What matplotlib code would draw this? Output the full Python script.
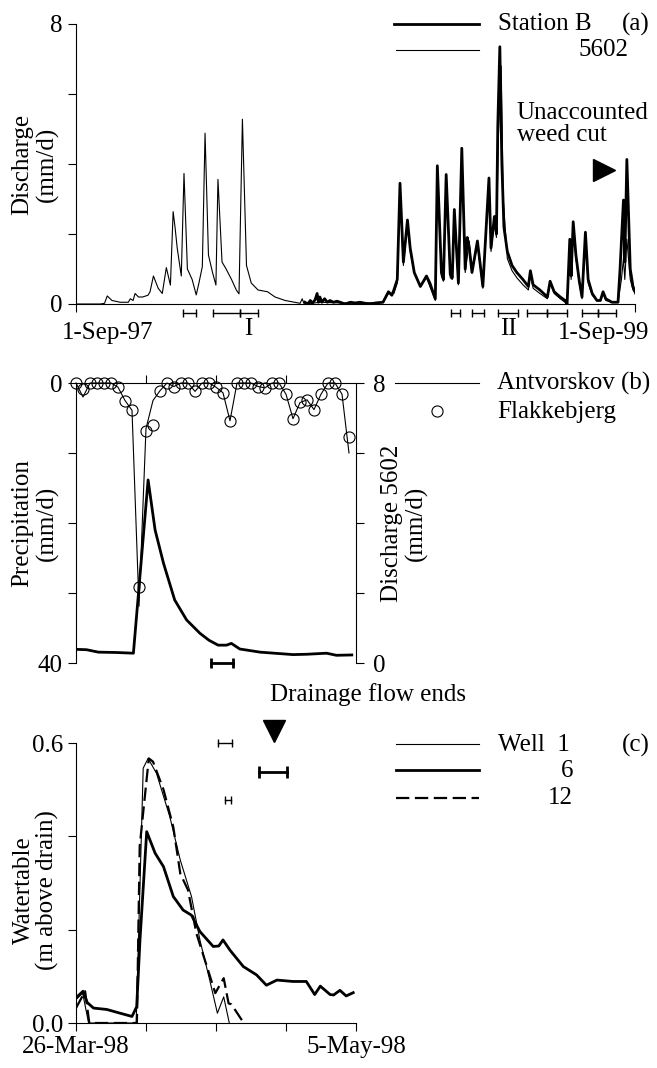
import matplotlib.pyplot as plt
from matplotlib.lines import Line2D

plt.rcParams['font.family'] = ['Liberation Serif', 'DejaVu Serif']
plt.rcParams['font.size'] = 18

# ---- (a) discharge, x = days since 1-Sep-97 ----
q5602_day = [-46, -10, -4, 0, 7, 19, 31, 34, 38, 41, 46, 52, 60, 63, 68, 75, 81, 87,
             93, 97, 100, 103, 109, 113, 118, 125, 131, 135, 140, 144, 149, 155,
             160, 163, 169, 175, 183, 190, 194, 199, 205, 212, 222, 236, 247, 262,
             284, 287, 290, 314, 343, 372, 406, 414, 422, 427, 431, 436, 442, 446,
             452, 461, 470, 475, 483, 486, 492, 495, 499, 505, 508, 511, 517, 522,
             527, 533, 537, 545, 553, 562, 565, 570, 573, 576, 580, 583, 589, 596,
             603, 612, 620, 623, 627, 637, 648, 652, 658, 667, 674, 677, 681, 683,
             686, 690, 695, 699, 704, 708, 714, 721, 726, 730, 734, 743, 752, 757,
             760, 762, 765, 770, 774, 779]
q5602 = [0.0, 0.0, 0.02, 0.23, 0.1, 0.05, 0.05, 0.15, 0.1, 0.3, 0.2, 0.2, 0.25,
         0.35, 0.8, 0.45, 0.3, 1.04, 0.54, 2.64, 2.16, 1.6, 0.8, 3.73, 1.0, 0.7,
         0.26, 0.6, 1.07, 4.88, 1.4, 0.9, 0.54, 3.56, 1.2, 1.0, 0.7, 0.4, 0.29,
         5.28, 1.1, 0.6, 0.4, 0.35, 0.2, 0.1, 0.02, 0.15, 0.0, 0.05, 0.03, 0.02,
         0.05, 0.3, 0.3, 0.6, 3.3, 1.1, 2.3, 1.5, 0.9, 0.5, 0.75, 0.5, 0.1, 3.8,
         0.8, 0.65, 3.6, 0.75, 0.7, 2.6, 0.55, 4.35, 0.9, 1.8, 0.9, 1.7, 0.45,
         3.5, 1.5, 2.4, 1.9, 4.9, 6.8, 3.0, 1.3, 0.95, 0.75, 0.55, 0.4, 0.85,
         0.45, 0.3, 0.15, 0.6, 0.3, 0.15, 0.05, 0.0, 1.7, 0.7, 2.2, 1.3, 0.6,
         0.15, 1.9, 0.6, 0.25, 0.1, 0.1, 0.3, 0.1, 0.05, 0.05, 0.7, 1.3, 0.7,
         1.85, 0.7, 0.4, 0.25]

stb_day = [291, 295, 299, 302, 306, 309, 311, 313, 316, 320, 324, 328, 333, 338,
           343, 350, 358, 365, 372, 380, 387, 395, 406, 414, 419, 422, 427, 431,
           436, 442, 446, 452, 461, 470, 475, 483, 486, 492, 495, 499, 505, 508,
           511, 517, 522, 527, 530, 533, 537, 545, 553, 562, 565, 570, 573, 575,
           578, 581, 584, 589, 596, 603, 612, 620, 623, 627, 637, 648, 652, 658,
           667, 674, 677, 681, 683, 686, 690, 695, 699, 704, 708, 714, 721, 726,
           730, 734, 743, 752, 755, 760, 762, 765, 770, 774, 779]
stb = [0.05, 0.0, 0.1, 0.02, 0.12, 0.3, 0.05, 0.2, 0.05, 0.15, 0.05, 0.1, 0.05,
       0.08, 0.05, 0.0, 0.05, 0.03, 0.05, 0.02, 0.0, 0.03, 0.05, 0.35, 0.25,
       0.4, 0.7, 3.45, 1.2, 2.4, 1.6, 0.9, 0.5, 0.8, 0.6, 0.15, 3.95, 0.9, 0.7,
       3.7, 0.85, 0.75, 2.7, 0.6, 4.45, 1.0, 1.9, 1.6, 0.9, 1.8, 0.5, 3.6, 1.6,
       2.5, 2.0, 5.1, 7.35, 4.0, 2.2, 1.5, 1.1, 0.9, 0.7, 0.5, 0.95, 0.55, 0.4,
       0.2, 0.65, 0.35, 0.2, 0.1, 0.0, 1.85, 0.8, 2.35, 1.4, 0.65, 0.2, 2.05,
       0.7, 0.3, 0.1, 0.1, 0.35, 0.15, 0.05, 0.05, 1.0, 2.97, 1.2, 4.13, 1.0,
       0.5, 0.26]

per_start = [112, 156, 196, 506, 537, 575, 618, 648, 699, 723]
per_end = [130, 196, 222, 520, 555, 605, 648, 677, 723, 749]

# ---- (b) 26-Mar-98 .. 5-May-98, x = day ----
antvorskov = [0, 2.0, 0, 0, 0, 0, 0.6, 2.5, 3.9, 31.9, 6.5, 2.5, 1.1, 0, 0.5, 0,
              0, 1.2, 0, 0, 0.6, 1.4, 5.4, 0, 0, 0, 0.5, 0.7, 0, 0, 1.6, 5.1,
              2.8, 2.4, 3.8, 1.6, 0, 0, 1.6, 10.0]
flakkebjerg = [0, 0.8, 0, 0, 0, 0, 0.6, 2.5, 3.9, 29.2, 6.9, 6.0, 1.1, 0, 0.5, 0,
               0, 1.2, 0, 0, 0.6, 1.4, 5.4, 0, 0, 0, 0.5, 0.7, 0, 0, 1.6, 5.1,
               2.7, 2.4, 3.8, 1.6, 0, 0, 1.6, 7.7]
rain_day = list(range(len(antvorskov)))

qb_day = [0, 1.5, 3.2, 5.8, 8.2, 10.3, 11.3, 12.5, 14.1, 15.8, 17.7, 19.0, 20.3,
          21.5, 22.2, 23.4, 26.3, 29.0, 31.0, 33.0, 35.8, 37.2, 39.4]
qb = [0.39, 0.38, 0.31, 0.30, 0.28, 5.23, 3.8, 2.85, 1.8, 1.23, 0.85, 0.65, 0.51,
      0.51, 0.56, 0.40, 0.31, 0.27, 0.24, 0.25, 0.28, 0.22, 0.23]

# ---- (c) watertable ----
well1_day = [0, 0.95, 1.8, 8.6, 9.6, 10.3, 11.5, 13.4, 14.9, 16.5, 17.7, 19.1,
             20.2, 21.1, 21.9]
well1 = [0.05, 0.064, 0.0, 0.0, 0.546, 0.567, 0.535, 0.442, 0.349, 0.271, 0.178,
         0.092, 0.021, 0.056, 0.0]
well6_day = [0, 1.0, 1.6, 2.5, 4.4, 6.3, 8.0, 8.67, 9.14, 10.1, 11.3, 12.5, 13.9,
             15.3, 16.5, 17.7, 19.6, 20.4, 21.0, 22.0, 23.9, 25.8, 27.2, 28.7,
             31.0, 32.9, 34.1, 34.9, 36.3, 36.8, 37.7, 38.6, 39.6]
well6 = [0.054, 0.068, 0.044, 0.032, 0.029, 0.021, 0.014, 0.035, 0.178, 0.41,
         0.364, 0.335, 0.271, 0.242, 0.231, 0.196, 0.164, 0.165, 0.178, 0.156,
         0.121, 0.103, 0.081, 0.092, 0.089, 0.089, 0.061, 0.079, 0.061, 0.06,
         0.07, 0.058, 0.065]
well12_day = [0, 1.3, 1.9, 8.7, 9.1, 10.4, 11.0, 12.5, 13.9, 14.9, 16.0, 17.2,
              18.7, 19.9, 21.1, 21.8, 22.2, 23.7, 23.8]
well12 = [0.032, 0.068, 0.0, 0.0, 0.379, 0.567, 0.56, 0.50, 0.42, 0.32, 0.285,
          0.192, 0.121, 0.064, 0.096, 0.042, 0.04, 0.006, 0.0]

# drainage flow end intervals (start, end, level, width)
flow_end_b = [(19.3, 22.4, 40, 2)]
flow_end_c = [(20.3, 22.3, 0.6, 1), (26.2, 30.2, 0.537, 2), (21.3, 22.2, 0.477, 1)]

W, H = 657, 1068


def fx(p):
    return p / W


def fy(p):
    return 1 - p / H


def interval(ax, s, e, y, lw=1, ms=6):
    ax.plot([s, e], [y, y], color='k', lw=lw, marker='|', ms=ms, mew=lw,
            clip_on=False)


fig = plt.figure(figsize=(W / 100, H / 100), dpi=100)

# ---------- panel a ----------
ax = fig.add_axes([fx(76), fy(304), 559 / W, 280 / H])
ax.plot(q5602_day, q5602, color='k', lw=0.8)
ax.plot(stb_day, stb, color='k', lw=2)
ax.set_xlim(-46, 777)
ax.set_ylim(0, 8)
ax.set_yticks([0, 2, 4, 6, 8])
ax.set_yticklabels(['0', '', '', '', '8'])
ax.set_xticks([0, 730])
ax.set_xticklabels(['1-Sep-97', '1-Sep-99'])
ax.set_xticks([-46, 777], minor=True)
ax.tick_params(axis='x', which='major', length=0, pad=13)
ax.tick_params(axis='x', which='minor', length=5.5, width=0.8)
ax.tick_params(axis='y', length=5.5, width=0.8, pad=4)
for s in ['top', 'right']:
    ax.spines[s].set_visible(False)
for s in ['left', 'bottom']:
    ax.spines[s].set_linewidth(0.8)
for s, e in zip(per_start, per_end):
    interval(ax, s, e, -0.26)
ax.text(207, -0.72, 'I', ha='center', va='center')
ax.text(590, -0.72, 'II', ha='center', va='center')
ax.text(603, 5.13, 'Unaccounted\nweed cut', ha='left', va='center', linespacing=1.0)
ax.plot([731], [3.83], marker='>', color='k', ms=16, clip_on=False)

fig.text(fx(35), fy(164), 'Discharge\n(mm/d)', rotation=90, ha='center',
         va='center', linespacing=1.1)
fig.add_artist(Line2D([fx(394), fx(479)], [fy(24), fy(24)], color='k', lw=2))
fig.add_artist(Line2D([fx(396), fx(479)], [fy(50), fy(50)], color='k', lw=0.8))
fig.text(fx(498), fy(24), 'Station B', ha='left', va='center')
fig.text(fx(622), fy(24), '(a)', ha='left', va='center')
fig.text(fx(629), fy(50), '5602', ha='right', va='center')

# ---------- panel b ----------
axb = fig.add_axes([fx(76), fy(663), 280 / W, 280 / H])
axb.plot(rain_day, antvorskov, color='k', lw=0.8, clip_on=False)
axb.plot(rain_day, flakkebjerg, ls='none', marker='o', ms=8, mfc='none',
         mec='k', mew=0.8, clip_on=False)
axb.set_xlim(0, 40)
axb.set_ylim(40, 0)
axb.xaxis.tick_top()
axb.set_xticks([10, 20, 30])
axb.set_xticklabels([])
axb.set_yticks([0, 10, 20, 30, 40])
axb.set_yticklabels(['0', '', '', '', '40'])
axb.tick_params(length=5.5, width=0.8, pad=4)
for s in ['bottom', 'right']:
    axb.spines[s].set_visible(False)
for s in ['top', 'left']:
    axb.spines[s].set_linewidth(0.8)
for s, e, y, lw in flow_end_b:
    interval(axb, s, e, y, lw=lw, ms=7)

axb2 = axb.twinx()
axb2.plot(qb_day, qb, color='k', lw=2)
axb2.set_ylim(0, 8)
axb2.set_yticks([0, 2, 4, 6, 8])
axb2.set_yticklabels(['0', '', '', '', '8'])
axb2.tick_params(length=5.5, width=0.8, pad=7)
for s in ['top', 'bottom', 'left']:
    axb2.spines[s].set_visible(False)
axb2.spines['right'].set_linewidth(0.8)

fig.text(fx(35), fy(523), 'Precipitation\n(mm/d)', rotation=90, ha='center',
         va='center', linespacing=1.1)
fig.text(fx(404), fy(523), 'Discharge 5602\n(mm/d)', rotation=90, ha='center',
         va='center', linespacing=1.1)
fig.add_artist(Line2D([fx(395), fx(479)], [fy(383), fy(383)], color='k', lw=0.8))
fig.add_artist(Line2D([fx(437)], [fy(411)], ls='none', marker='o', ms=8,
                      mfc='none', mec='k', mew=0.8))
fig.text(fx(497), fy(383), 'Antvorskov (b)', ha='left', va='center')
fig.text(fx(497), fy(412), 'Flakkebjerg', ha='left', va='center')
fig.text(fx(368), fy(695), 'Drainage flow ends', ha='center', va='center')

# ---------- panel c ----------
axc = fig.add_axes([fx(76), fy(1023), 280 / W, 280 / H])
axc.plot(well1_day, well1, color='k', lw=0.8)
axc.plot(well6_day, well6, color='k', lw=2)
axc.plot(well12_day, well12, color='k', lw=1.6, dashes=(6, 2.5))
axc.set_xlim(0, 40)
axc.set_ylim(0, 0.6)
axc.set_xticks([0, 10, 20, 30, 40])
axc.set_xticklabels(['26-Mar-98', '', '', '', '5-May-98'])
axc.set_yticks([0, 0.2, 0.4, 0.6])
axc.set_yticklabels(['0.0', '', '', '0.6'])
axc.tick_params(length=5.5, width=0.8, pad=4)
for s in ['top', 'right']:
    axc.spines[s].set_visible(False)
for s in ['left', 'bottom']:
    axc.spines[s].set_linewidth(0.8)
for s, e, y, lw in flow_end_c:
    interval(axc, s, e, y, lw=lw, ms=6 if lw == 1 else 8)
axc.plot([28.3], [0.626], marker='v', color='k', ms=16, clip_on=False)

fig.text(fx(36), fy(890), 'Watertable\n(m above drain)', rotation=90, ha='center',
         va='center', linespacing=1.1)
fig.add_artist(Line2D([fx(396), fx(479)], [fy(744), fy(744)], color='k', lw=0.8))
fig.add_artist(Line2D([fx(396), fx(479)], [fy(770), fy(770)], color='k', lw=2))
fig.add_artist(Line2D([fx(396), fx(479)], [fy(798), fy(798)], color='k', lw=1.6,
                      dashes=(6, 2.5)))
fig.text(fx(498), fy(745), 'Well  1', ha='left', va='center')
fig.text(fx(573), fy(771), '6', ha='right', va='center')
fig.text(fx(573), fy(798), '12', ha='right', va='center')
fig.text(fx(622), fy(745), '(c)', ha='left', va='center')

fig.savefig('out.png', dpi=100)
